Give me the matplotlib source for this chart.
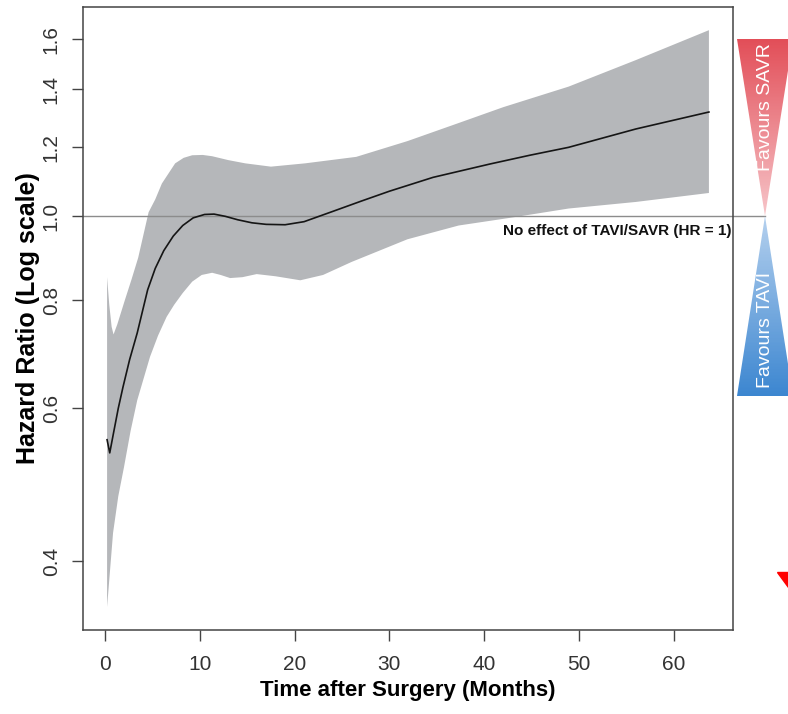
import numpy as np
import matplotlib
matplotlib.use("Agg")
import matplotlib.pyplot as plt
from matplotlib.colors import LinearSegmentedColormap
from matplotlib.patches import Polygon
from matplotlib.ticker import FixedLocator, NullLocator

plt.rcParams['font.family'] = ['Liberation Sans', 'DejaVu Sans']

# hazard ratio curve
months_mid = [0.22, 0.5, 0.9, 1.4, 1.9, 2.6, 3.4, 4.5, 5.3, 6.2, 7.2, 8.2, 9.3, 10.5,
              11.5, 12.7, 14.0, 15.5, 17.0, 19.0, 21.0, 24.0, 27.0, 30.0, 34.6, 40.6,
              44.8, 48.9, 56.0, 63.7]
hr_mid = [0.552, 0.533, 0.562, 0.600, 0.635, 0.683, 0.733, 0.822, 0.870, 0.912, 0.948,
          0.975, 0.995, 1.004, 1.005, 0.999, 0.990, 0.982, 0.978, 0.977, 0.985, 1.012,
          1.040, 1.068, 1.108, 1.148, 1.175, 1.200, 1.260, 1.318]

# confidence band, upper edge
months_up = [0.22, 0.45, 0.7, 0.9, 1.3, 2.1, 2.8, 3.5, 4.6, 5.3, 6.0, 7.4, 8.3, 9.2,
             10.3, 11.3, 13.0, 14.8, 17.5, 21.1, 26.5, 31.9, 37.3, 42.0, 48.9, 56.0, 63.7]
hr_up = [0.85, 0.79, 0.745, 0.73, 0.75, 0.80, 0.845, 0.895, 1.01, 1.045, 1.09, 1.15,
         1.167, 1.175, 1.176, 1.172, 1.16, 1.15, 1.14, 1.15, 1.17, 1.22, 1.28, 1.335,
         1.41, 1.513, 1.638]

# confidence band, lower edge
months_lo = [0.22, 0.85, 1.4, 2.0, 2.7, 3.4, 4.75, 5.6, 6.5, 7.3, 8.2, 9.2, 10.2, 11.3,
             12.2, 13.2, 14.5, 16.0, 18.0, 20.6, 23.0, 26.0, 31.9, 37.3, 42.7, 48.9,
             56.0, 63.7]
hr_lo = [0.354, 0.431, 0.475, 0.513, 0.565, 0.613, 0.688, 0.728, 0.765, 0.79, 0.815,
         0.84, 0.855, 0.86, 0.855, 0.848, 0.85, 0.857, 0.852, 0.843, 0.855, 0.885, 0.94,
         0.975, 0.995, 1.02, 1.038, 1.063]

x_ticks = [0, 10, 20, 30, 40, 50, 60]
y_ticks = [0.4, 0.6, 0.8, 1.0, 1.2, 1.4, 1.6]
y_ticklabels = ['0.4', '0.6', '0.8', '1.0', '1.2', '1.4', '1.6']

W, H = 788, 714
fig = plt.figure(figsize=(W / 100, H / 100), dpi=100)
ax = fig.add_axes([83 / W, 1 - 630 / H, 650 / W, 623 / H])

# band as one closed polygon (upper edge then lower edge reversed)
band_x = months_up + months_lo[::-1]
band_y = hr_up + hr_lo[::-1]
ax.fill(band_x, band_y, color='#b5b7ba', lw=0, zorder=1)
ax.plot([0, 1.049], [1, 1], transform=ax.get_yaxis_transform(), color='#8c8c8c',
        lw=1.0, clip_on=False, zorder=2)
ax.plot(months_mid, hr_mid, color='#151515', lw=1.2, zorder=3)

ax.set_yscale('log')
ax.set_xlim(-2.32, 66.24)
ax.set_ylim(0.333, 1.742)
ax.yaxis.set_major_locator(FixedLocator(y_ticks))
ax.yaxis.set_minor_locator(NullLocator())
ax.set_yticklabels(y_ticklabels, rotation=90, va='center')
ax.set_xticks(x_ticks)
ax.tick_params(axis='both', labelsize=15, length=8, width=1.0, color='#444444',
               labelcolor='#333333')
ax.tick_params(axis='y', pad=8)
ax.tick_params(axis='x', pad=10)
for sp in ax.spines.values():
    sp.set_color('#444444')
    sp.set_linewidth(1.1)

ax.set_xlabel('Time after Surgery (Months)', fontsize=16, fontweight='bold', labelpad=4)
ax.set_ylabel('Hazard Ratio (Log scale)', fontsize=18, fontweight='bold', labelpad=1)

ax.text(0.997, 0.98, 'No effect of TAVI/SAVR (HR = 1)', transform=ax.get_yaxis_transform(),
        ha='right', va='top', fontsize=11, fontweight='bold', color='#111111')

# side scale: favours SAVR / favours TAVI
side = fig.add_axes([737 / W, 1 - 630 / H, 56 / W, 623 / H], sharey=ax)
side.set_xlim(0, 1)
side.axis('off')

reds = LinearSegmentedColormap.from_list('reds', ['#f6c4c8', '#e24e58'])
blues = LinearSegmentedColormap.from_list('blues', ['#b4d0ee', '#3c86d0'])

yr = np.geomspace(1.0, 1.6, 120)
m = side.pcolormesh([0, 1], yr, np.linspace(0, 1, 119)[:, None], cmap=reds,
                    shading='flat', zorder=1)
tri = Polygon([[0, 1.6], [1, 1.6], [0.5, 1.0]], closed=True, transform=side.transData)
m.set_clip_path(tri)

yb = np.geomspace(0.62, 1.0, 120)
m2 = side.pcolormesh([0, 1], yb, np.linspace(1, 0, 119)[:, None], cmap=blues,
                     shading='flat', zorder=1)
tri2 = Polygon([[0, 0.62], [1, 0.62], [0.5, 1.0]], closed=True, transform=side.transData)
m2.set_clip_path(tri2)

side.text(0.5, 1.336, 'Favours SAVR', rotation=90, ha='center', va='center',
          color='white', fontsize=14)
side.text(0.5, 0.739, 'Favours TAVI', rotation=90, ha='center', va='center',
          color='white', fontsize=14)

# small red mark at the lower right
fig.patches.append(Polygon([[777 / W, 1 - 572 / H], [788 / W, 1 - 572 / H],
                            [788 / W, 1 - 587 / H]], closed=True,
                           transform=fig.transFigure, color='#ff0000'))

fig.savefig('out.png', dpi=100)
